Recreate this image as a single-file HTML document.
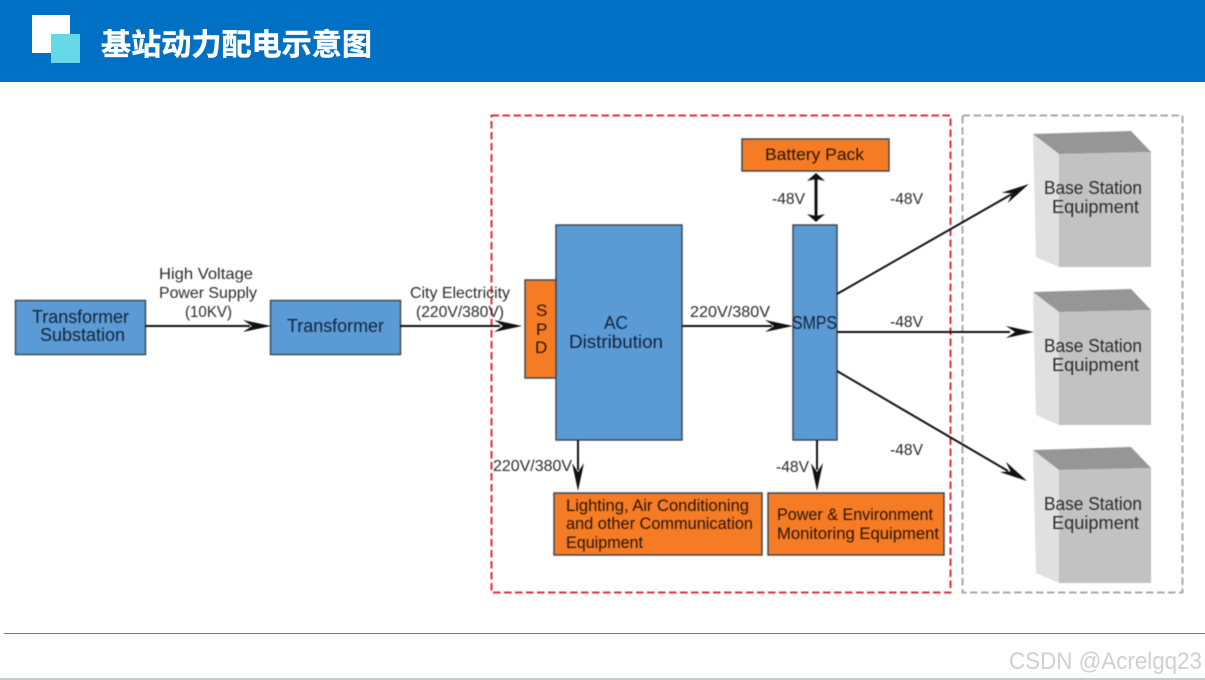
<!DOCTYPE html>
<html lang="zh">
<head>
<meta charset="utf-8">
<title>基站动力配电示意图</title>
<style>
html,body{margin:0;padding:0;background:#fff;width:1205px;height:680px;overflow:hidden}
svg{display:block}
text{font-family:"Liberation Sans","Noto Sans CJK SC",sans-serif}
.l{font-size:16px;fill:#2b2b2b;text-anchor:start}
.b{font-size:18px;fill:#14233a;text-anchor:start}
.o{font-size:17px;fill:#2a1505;text-anchor:start}
.e{font-size:18px;fill:#2c2c2c;text-anchor:start}
.d{filter:blur(0.4px)}
</style>
</head>
<body>
<svg width="1205" height="680" viewBox="0 0 1205 680" xmlns="http://www.w3.org/2000/svg">
<defs>
<g id="ah"><path d="M0 0 L-28 -6 L-19 0 L-28 6 Z" fill="#111"/></g>
<g id="cab">
<polygon points="0,0 98,-3 118,18 26,20" fill="#969696"/>
<polygon points="0,0 26,20 26,133 3,123" fill="#e0e0e0"/>
<polygon points="26,20 118,18 118,133 26,133" fill="#c2c2c2"/>
</g>
</defs>

<rect x="0" y="0" width="1205" height="82" fill="#0070c4"/>
<rect x="32" y="15" width="38" height="38" fill="#fff"/>
<rect x="51" y="34" width="29" height="29" fill="#66d8e8"/>
<text x="101" y="55" font-size="30" font-weight="700" fill="#fff" stroke="#fff" stroke-width="0.4" textLength="271" lengthAdjust="spacingAndGlyphs">基站动力配电示意图</text>

<g class="d">
<rect x="491.500" y="115.500" width="459" height="477" fill="none" stroke="#dc2f3e" stroke-width="2" stroke-dasharray="7.500 3.500"/>
<rect x="962.500" y="115.500" width="220" height="477" fill="none" stroke="#a8a8a8" stroke-width="2" stroke-dasharray="7.500 3.500"/>

<g stroke="#3f4a55" stroke-width="1.500">
<rect x="15.500" y="300.500" width="130" height="54" fill="#5b9bd5"/>
<rect x="270.500" y="300.500" width="130" height="54" fill="#5b9bd5"/>
<rect x="556" y="225" width="126" height="215" fill="#5b9bd5"/>
<rect x="793" y="225" width="44" height="215" fill="#5b9bd5"/>
<rect x="525" y="280" width="31" height="98" fill="#f57b25"/>
<rect x="742" y="139" width="147" height="32" fill="#f57b25"/>
<rect x="554" y="493" width="208" height="62" fill="#f57b25"/>
<rect x="768" y="493" width="176" height="62" fill="#f57b25"/>
</g>

<use href="#cab" x="1033" y="134"/>
<use href="#cab" x="1033" y="292"/>
<use href="#cab" x="1033" y="450"/>

<g stroke="#111" stroke-width="2" fill="none">
<line x1="145" y1="326" x2="250" y2="326"/>
<line x1="400" y1="326" x2="500" y2="326"/>
<line x1="682" y1="326" x2="772" y2="326"/>
<line x1="837" y1="332" x2="1010" y2="332"/>
<line x1="837" y1="294" x2="1012" y2="194"/>
<line x1="837" y1="371" x2="1008" y2="471"/>
<line x1="578" y1="440" x2="578" y2="470"/>
<line x1="817" y1="440" x2="817" y2="470"/>
<line x1="816" y1="178" x2="816" y2="216" stroke-width="3"/>
</g>
<path d="M816 173 L825 181 L816 179 L807 181 Z M816 222 L825 214 L816 216 L807 214 Z" fill="#111"/>
<use href="#ah" transform="translate(271 326)"/>
<use href="#ah" transform="translate(522 326)"/>
<use href="#ah" transform="translate(793 326)"/>
<use href="#ah" transform="translate(1034 332)"/>
<use href="#ah" transform="translate(1029 184) rotate(-29.700)"/>
<use href="#ah" transform="translate(1027 481) rotate(30.300)"/>
<use href="#ah" transform="translate(578 491) rotate(90)"/>
<use href="#ah" transform="translate(817 491) rotate(90)"/>

<text class="b" x="32" y="323" textLength="97" lengthAdjust="spacingAndGlyphs">Transformer</text>
<text class="b" x="40" y="341" textLength="85" lengthAdjust="spacingAndGlyphs">Substation</text>
<text class="b" x="287" y="332" textLength="97" lengthAdjust="spacingAndGlyphs">Transformer</text>
<text class="b" x="604" y="329" textLength="24" lengthAdjust="spacingAndGlyphs">AC</text>
<text class="b" x="569" y="348" textLength="94" lengthAdjust="spacingAndGlyphs">Distribution</text>
<text class="b" x="792" y="329" textLength="45" lengthAdjust="spacingAndGlyphs">SMPS</text>
<text class="o" x="536" y="316">S</text>
<text class="o" x="536" y="335">P</text>
<text class="o" x="535" y="353">D</text>
<text class="o" x="765" y="160" textLength="99" lengthAdjust="spacingAndGlyphs">Battery Pack</text>
<text class="o" x="566" y="511" textLength="183" lengthAdjust="spacingAndGlyphs">Lighting, Air Conditioning</text>
<text class="o" x="566" y="529" textLength="187" lengthAdjust="spacingAndGlyphs">and other Communication</text>
<text class="o" x="566" y="548" textLength="77" lengthAdjust="spacingAndGlyphs">Equipment</text>
<text class="o" x="777" y="520" textLength="156" lengthAdjust="spacingAndGlyphs">Power &amp; Environment</text>
<text class="o" x="777" y="539" textLength="162" lengthAdjust="spacingAndGlyphs">Monitoring Equipment</text>

<text class="l" x="159" y="279" textLength="94" lengthAdjust="spacingAndGlyphs">High Voltage</text>
<text class="l" x="159" y="298" textLength="98" lengthAdjust="spacingAndGlyphs">Power Supply</text>
<text class="l" x="185" y="317" textLength="47" lengthAdjust="spacingAndGlyphs">(10KV)</text>
<text class="l" x="410" y="298" textLength="100" lengthAdjust="spacingAndGlyphs">City Electricity</text>
<text class="l" x="416" y="317" textLength="88" lengthAdjust="spacingAndGlyphs">(220V/380V)</text>
<text class="l" x="690" y="317" textLength="80" lengthAdjust="spacingAndGlyphs">220V/380V</text>
<text class="l" x="493" y="471" textLength="79" lengthAdjust="spacingAndGlyphs">220V/380V</text>
<text class="l" x="772" y="204" textLength="33" lengthAdjust="spacingAndGlyphs">-48V</text>
<text class="l" x="890" y="204" textLength="33" lengthAdjust="spacingAndGlyphs">-48V</text>
<text class="l" x="890" y="327" textLength="33" lengthAdjust="spacingAndGlyphs">-48V</text>
<text class="l" x="890" y="455" textLength="33" lengthAdjust="spacingAndGlyphs">-48V</text>
<text class="l" x="776" y="472" textLength="33" lengthAdjust="spacingAndGlyphs">-48V</text>

<text class="e" x="1044" y="194" textLength="98" lengthAdjust="spacingAndGlyphs">Base Station</text>
<text class="e" x="1052" y="213" textLength="87" lengthAdjust="spacingAndGlyphs">Equipment</text>
<text class="e" x="1044" y="352" textLength="98" lengthAdjust="spacingAndGlyphs">Base Station</text>
<text class="e" x="1052" y="371" textLength="87" lengthAdjust="spacingAndGlyphs">Equipment</text>
<text class="e" x="1044" y="510" textLength="98" lengthAdjust="spacingAndGlyphs">Base Station</text>
<text class="e" x="1052" y="529" textLength="87" lengthAdjust="spacingAndGlyphs">Equipment</text>
</g>

<rect x="4" y="633" width="1201" height="1" fill="#2f8fcf"/>
<rect x="0" y="678" width="1205" height="2" fill="#c8cccc"/>
<text x="1009" y="669" font-size="24" fill="#d0d0d0" textLength="193" lengthAdjust="spacingAndGlyphs">CSDN @Acrelgq23</text>
</svg>
</body>
</html>
